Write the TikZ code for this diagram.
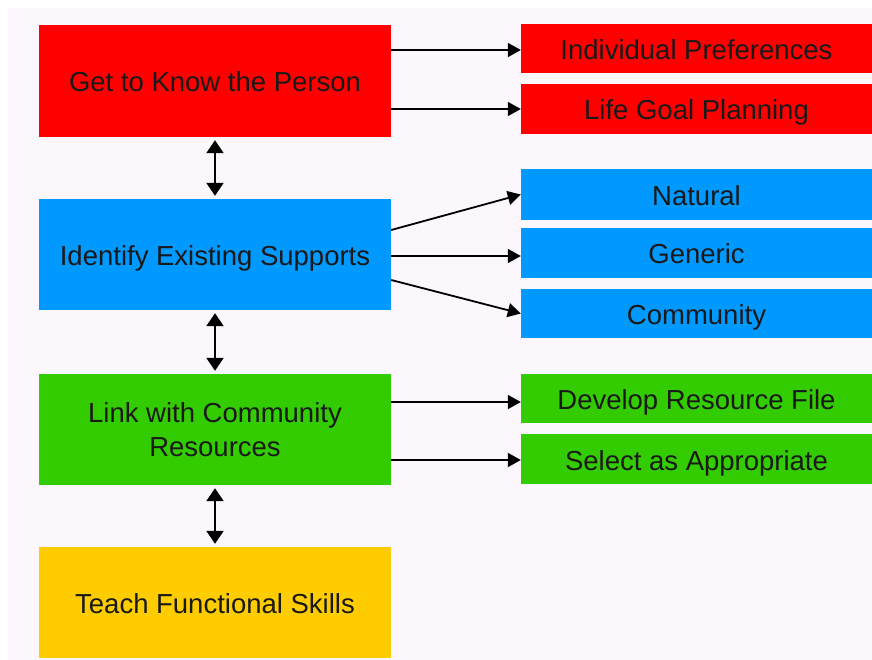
\documentclass[tikz,border=0pt]{standalone}
\usepackage{fontspec}
\setmainfont{Liberation Sans}
\usetikzlibrary{arrows.meta,calc}
\definecolor{bgtint}{HTML}{FCF7FC}
\definecolor{boxred}{HTML}{FF0000}
\definecolor{boxblue}{HTML}{0099FF}
\definecolor{boxgreen}{HTML}{33CC00}
\definecolor{boxyellow}{HTML}{FFCC00}
\tikzset{
  mainbox/.style={draw=none, inner sep=0pt, minimum width=352pt, minimum height=111pt,
    align=center, font=\fontsize{27.5}{34}\selectfont, text=black!90},
  oneline/.style={text height=24pt, text depth=2pt},
  subbox/.style={draw=none, inner sep=0pt, minimum width=351pt, minimum height=50pt,
    font=\fontsize{27.5}{32}\selectfont, text=black!90, oneline},
  linkarrow/.style={line width=1.8pt, -{Triangle[length=13pt,width=14pt]}},
  steparrow/.style={line width=2.2pt, {Triangle[length=13pt,width=17pt]}-{Triangle[length=13pt,width=17pt]},
    shorten <=3pt, shorten >=3pt}
}
\begin{document}
\begin{tikzpicture}[x=1pt,y=-1pt]
  \useasboundingbox (0,0) rectangle (872,660);
  \fill[bgtint] (8,8) rectangle (872,660);

  % main steps
  \node[mainbox, oneline, fill=boxred, minimum height=112pt] (know) at (215,81) {Get to Know the Person};
  \node[mainbox, oneline, fill=boxblue]   (identify) at (215,254.5) {Identify Existing Supports};
  \node[mainbox, fill=boxgreen]           (link)     at (215,429.5) {Link with Community\\Resources};
  \node[mainbox, oneline, fill=boxyellow] (teach)    at (215,602.5) {Teach Functional Skills};

  % details
  \node[subbox, fill=boxred,   minimum height=49pt] (pref)    at (696.5,48.5)  {Individual Preferences};
  \node[subbox, fill=boxred]                        (goal)    at (696.5,109)   {Life Goal Planning};
  \node[subbox, fill=boxblue,  minimum height=51pt] (natural) at (696.5,194.5) {Natural};
  \node[subbox, fill=boxblue]                       (generic) at (696.5,253)   {Generic};
  \node[subbox, fill=boxblue,  minimum height=49pt] (commun)  at (696.5,313.5) {Community};
  \node[subbox, fill=boxgreen, minimum height=49pt] (file)    at (696.5,398.5) {Develop Resource File};
  \node[subbox, fill=boxgreen]                      (select)  at (696.5,459)   {Select as Appropriate};

  % sequence between steps
  \draw[steparrow] (know.south) -- (identify.north);
  \draw[steparrow] (identify.south) -- (link.north);
  \draw[steparrow] (link.south) -- (teach.north);

  % links to details
  \draw[linkarrow] ($(pref.west -| know.east)+(0,1.5)$) -- ($(pref.west)+(0,1.5)$);
  \draw[linkarrow] (goal.west -| know.east) -- (goal.west);
  \draw[linkarrow] ($(identify.east)+(0,-24.5)$) -- (natural.west);
  \draw[linkarrow] ($(identify.east)+(0,1.5)$) -- ($(generic.west)+(0,3)$);
  \draw[linkarrow] ($(identify.east)+(0,25.5)$) -- (commun.west);
  \draw[linkarrow] ($(file.west -| link.east)+(0,3.5)$) -- ($(file.west)+(0,3.5)$);
  \draw[linkarrow] ($(select.west -| link.east)+(0,1)$) -- ($(select.west)+(0,1)$);
\end{tikzpicture}
\end{document}
